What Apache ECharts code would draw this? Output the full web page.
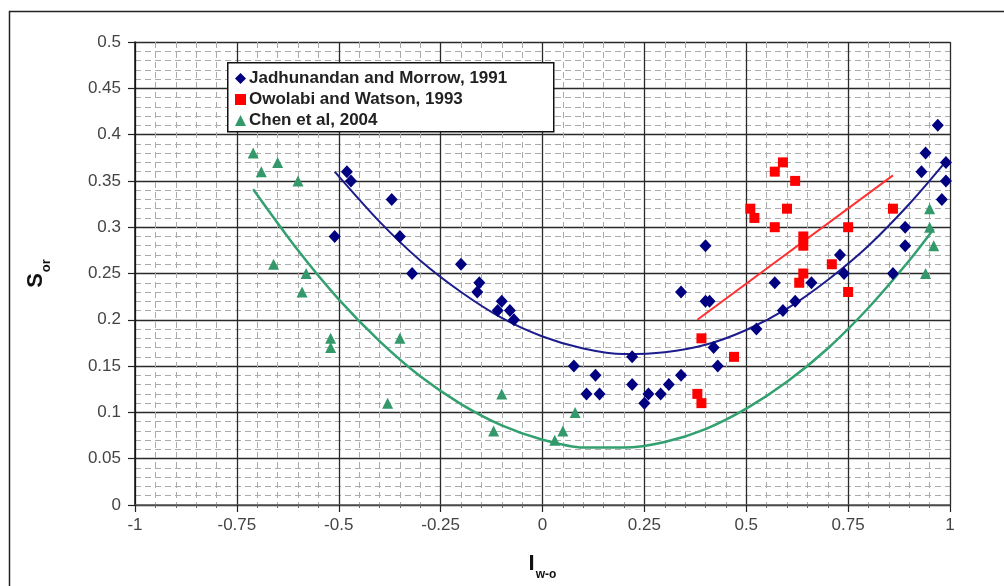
<!DOCTYPE html>
<html>
<head>
<meta charset="utf-8">
<script src="https://cdn.jsdelivr.net/npm/echarts@6/dist/echarts.min.js"></script>
<style>
html,body{margin:0;padding:0;background:#fff;}
#chart{width:1004px;height:586px;}
</style>
</head>
<body>
<div id="chart"></div>
<script>
// ---- data ----
var seriesNames = ['Jadhunandan and Morrow, 1991', 'Owolabi and Watson, 1993', 'Chen et al, 2004'];

var jadhunandan = [
  [-0.51,0.29],[-0.48,0.36],[-0.47,0.35],[-0.37,0.33],[-0.35,0.29],[-0.32,0.25],
  [-0.20,0.26],[-0.155,0.24],[-0.16,0.23],[-0.10,0.22],[-0.11,0.21],[-0.08,0.21],[-0.07,0.20],
  [0.077,0.15],[0.13,0.14],[0.108,0.12],[0.14,0.12],[0.22,0.16],[0.22,0.13],[0.26,0.12],
  [0.25,0.11],[0.29,0.12],[0.31,0.13],[0.34,0.14],[0.42,0.17],[0.43,0.15],[0.34,0.23],
  [0.40,0.28],[0.40,0.22],[0.41,0.22],[0.525,0.19],[0.59,0.21],[0.57,0.24],[0.62,0.22],
  [0.66,0.24],[0.73,0.27],[0.74,0.25],[0.86,0.25],[0.89,0.30],[0.89,0.28],[0.93,0.36],
  [0.94,0.38],[0.97,0.41],[0.99,0.37],[0.99,0.35],[0.98,0.33]
];
var owolabi = [
  [0.39,0.18],[0.47,0.16],[0.38,0.12],[0.39,0.11],[0.59,0.37],[0.57,0.36],[0.62,0.35],
  [0.51,0.32],[0.52,0.31],[0.60,0.32],[0.57,0.30],[0.64,0.29],[0.64,0.28],[0.75,0.30],
  [0.86,0.32],[0.71,0.26],[0.64,0.25],[0.63,0.24],[0.75,0.23]
];
var chen = [
  [-0.71,0.38],[-0.65,0.37],[-0.69,0.36],[-0.60,0.35],[-0.66,0.26],[-0.58,0.25],[-0.59,0.23],
  [-0.52,0.18],[-0.52,0.17],[-0.35,0.18],[-0.38,0.11],[-0.10,0.12],[-0.12,0.08],[0.08,0.10],
  [0.05,0.08],[0.03,0.07],[0.95,0.32],[0.95,0.30],[0.96,0.28],[0.94,0.25]
];
// trend lines, points
var jadhunandanTrend = [
  [-0.51,0.360],[-0.4,0.306],[-0.3,0.264],[-0.2,0.230],[-0.1,0.202],[0,0.182],[0.1,0.169],
  [0.2,0.163],[0.3,0.165],[0.4,0.173],[0.5,0.189],[0.6,0.212],[0.7,0.243],[0.8,0.280],
  [0.9,0.325],[0.99,0.371]
];
var owolabiTrend = [[0.38,0.200],[0.86,0.356]];
var chenTrend = [
  [-0.71,0.341],[-0.6,0.275],[-0.5,0.222],[-0.4,0.177],[-0.3,0.139],[-0.2,0.109],[-0.1,0.086],
  [0,0.0705],[0.1,0.062],[0.2,0.062],[0.3,0.068],[0.4,0.082],[0.5,0.104],[0.6,0.133],
  [0.7,0.169],[0.8,0.213],[0.9,0.264],[0.96,0.298]
];
var xTicks = {min:-1, max:1, step:0.25};
var yTicks = {min:0, max:0.5, step:0.05};

var chart = echarts.init(document.getElementById('chart'), null, {renderer:'canvas'});
var FONT = 'Liberation Sans, Arial, sans-serif';
var option = {
  backgroundColor:'#fff',
  animation:false,
  grid:{left:135, right:54, top:42, bottom:80},
  graphic:[
    {type:'rect', left:7, top:9, shape:{width:1020, height:620},
     style:{fill:'none', stroke:'#222', lineWidth:1.5}, silent:true, z:-1},
    {type:'rect', left:227, top:62, shape:{width:326, height:69},
     style:{fill:'#fff', stroke:'#111', lineWidth:1.5}, z:10}
  ],
  legend:{
    orient:'vertical', left:230, top:65, z:20,
    itemGap:4, itemWidth:11, itemHeight:11,
    textStyle:{fontFamily:FONT, fontSize:17, fontWeight:'bold', color:'#222', padding:[0,0,0,-2]},
    data:[
      {name:seriesNames[0], icon:'diamond'},
      {name:seriesNames[1], icon:'rect'},
      {name:seriesNames[2], icon:'triangle'}
    ]
  },
  xAxis:{
    type:'value', min:xTicks.min, max:xTicks.max, interval:xTicks.step,
    name:'{a|I}{b|w-o}', nameLocation:'middle', nameGap:48,
    nameTextStyle:{rich:{
      a:{fontFamily:FONT, fontSize:22, fontWeight:'bold', color:'#111', verticalAlign:'bottom'},
      b:{fontFamily:FONT, fontSize:12, fontWeight:'bold', color:'#111', verticalAlign:'bottom', padding:[0,0,-6,1]}
    }},
    axisLine:{show:true, onZero:false, lineStyle:{color:'#555', width:1.5}},
    axisTick:{show:true, length:7, lineStyle:{color:'#222', width:1.2}},
    minorTick:{show:true, splitNumber:5, length:3, lineStyle:{color:'#666'}},
    axisLabel:{fontFamily:FONT, fontSize:17, color:'#444', margin:12},
    splitLine:{show:true, lineStyle:{color:'#2a2a2a', width:1.3}},
    minorSplitLine:{show:true, lineStyle:{color:'#aaa', width:1, type:[6,4]}}
  },
  yAxis:{
    type:'value', min:yTicks.min, max:yTicks.max, interval:yTicks.step,
    name:'{a|S}{b|or}', nameLocation:'middle', nameGap:88, nameRotate:90,
    nameTextStyle:{rich:{
      a:{fontFamily:FONT, fontSize:22, fontWeight:'bold', color:'#111', verticalAlign:'bottom'},
      b:{fontFamily:FONT, fontSize:13, fontWeight:'bold', color:'#111', verticalAlign:'bottom', padding:[0,0,-6,1]}
    }},
    axisLine:{show:true, onZero:false, lineStyle:{color:'#111', width:1.5}},
    axisTick:{show:true, length:7, lineStyle:{color:'#222', width:1.2}},
    axisLabel:{fontFamily:FONT, fontSize:17, color:'#444', margin:14},
    splitLine:{show:true, lineStyle:{color:'#2a2a2a', width:1.3}},
    minorSplitLine:{show:true, lineStyle:{color:'#aaa', width:1, type:[6,4]}}
  },
  series:[
    {name:seriesNames[0], type:'scatter', data:jadhunandan, symbol:'diamond', symbolSize:[12,13],
     itemStyle:{color:'#000080', opacity:1}, z:5},
    {name:seriesNames[1], type:'scatter', data:owolabi, symbol:'rect', symbolSize:10,
     itemStyle:{color:'#ff0000', opacity:1}, z:5},
    {name:seriesNames[2], type:'scatter', data:chen, symbol:'triangle', symbolSize:11,
     itemStyle:{color:'#33996b', opacity:1}, z:5},
    {name:'trend1', type:'line', data:jadhunandanTrend, smooth:0.3, showSymbol:false, symbol:'none',
     lineStyle:{color:'#1c1c8c', width:2}, z:4},
    {name:'trend2', type:'line', data:owolabiTrend, showSymbol:false, symbol:'none',
     lineStyle:{color:'#ff3030', width:2}, z:4},
    {name:'trend3', type:'line', data:chenTrend, smooth:0.3, showSymbol:false, symbol:'none',
     lineStyle:{color:'#33a070', width:2.5}, z:4}
  ]
};
chart.setOption(option);
</script>
</body>
</html>
